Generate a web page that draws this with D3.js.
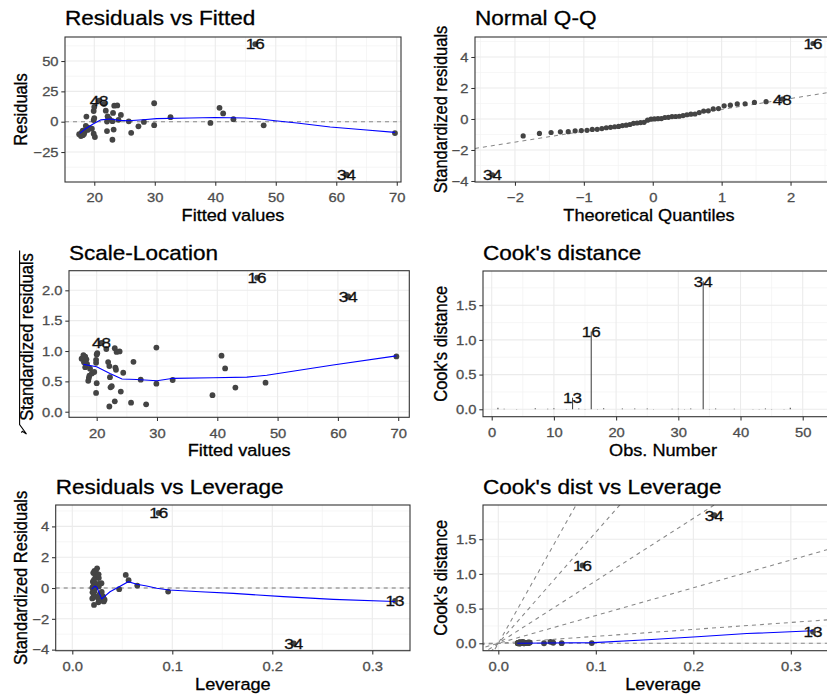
<!DOCTYPE html>
<html><head><meta charset="utf-8">
<script src="https://cdn.jsdelivr.net/npm/d3@7"></script>
<style>
body{margin:0;background:#fff}
text{font-family:"Liberation Sans",Arial,sans-serif}
.heavy{stroke-width:0.3px;paint-order:stroke}
</style>
</head><body>
<script>
// ---------------- data ----------------
// observation number = index + 1
const fitted = [40.7,18.3,22.1,19.9,25.7,18.8,29.9,20.0,17.9,23.0,
                22.3,19.2,69.7,23.3,18.1,46.6,26.1,21.6,18.6,32.6,
                20.1,22.5,17.8,39.2,23.8,19.6,27.3,24.4,18.4,41.3,
                21.9,17.5,28.2,61.7,23.1,18.1,43.0,22.2,19.9,29.9,
                18.7,22.1,48.0,20.0,23.2,19.9,18.9,20.8,24.0,23.0];
const residuals = [11.4,-10.1,0.1,8.8,0.3,-4.8,15.2,3.0,-9.0,-14.9,
                   2.2,-5.4,-9.4,13.2,-7.3,64.0,-9.2,14.5,-3.5,3.7,
                   -12.6,2.4,-11.8,-1.0,13.4,-5.8,-3.8,5.6,-8.4,6.8,
                   9.1,-10.3,-0.2,-43.7,7.2,-11.1,2.1,4.4,-9.9,-2.9,
                   4.2,-7.7,-3.0,12.1,-6.5,1.3,-6.8,17.4,1.5,0.4];
const residualSE = 13.75;      // residual standard error of the model
const nCoef = 2;               // intercept + slope
const residLabelObs = [16, 34, 48];
const cookLabelObs = [34, 16, 13];
const cookContourLevels = [0, 1, 2, 3, 4, 5];

// loess smooth lines as drawn
const rvfSmoothX = [17.6,18.5,19.8,21.1,22.6,24.2,25.6,28.1,30.3,35.8,40.0,44.9,47.4,49.9,53.5,59.0,64.5,69.7];
const rvfSmoothY = [-9.6,-6.0,-1.9,1.5,2.2,1.1,0.8,1.6,2.5,3.0,3.5,3.0,2.2,0.8,-1.1,-4.4,-6.6,-8.8];
const slSmoothX = [17.8,20.0,22.2,24.2,26.6,30.0,32.7,39.3,44.9,48.2,59.2,69.7];
const slSmoothY = [0.78,0.74,0.63,0.54,0.53,0.51,0.55,0.56,0.57,0.60,0.77,0.92];
const rvlSmoothX = [0.0194,0.0225,0.0245,0.0294,0.0377,0.046,0.056,0.0644,0.0744,0.0844,0.0967,0.128,0.161,0.211,0.261,0.3227];
const rvlSmoothY = [-0.07,0.12,0.05,-0.71,-0.24,0.05,0.41,0.24,0.13,-0.02,-0.13,-0.24,-0.35,-0.56,-0.74,-0.88];
const cvlSmoothX = [0.0195,0.05,0.098,0.153,0.204,0.255,0.3227];
const cvlSmoothY = [0.0,0.003,0.01,0.05,0.095,0.14,0.18];

// tick labels
const fittedTicks = [20,30,40,50,60,70];
const residTicks = [-25,0,25,50];
const qqXTicks = [-2,-1,0,1,2];
const stdTicks = [-4,-2,0,2,4];
const slTicks = [0,0.5,1,1.5,2];
const obsTicks = [0,10,20,30,40,50];
const cookTicks = [0,0.5,1,1.5];
const levTicks = [0,0.1,0.2,0.3];

// ---------------- derived diagnostics ----------------
const n = fitted.length;
const obs = d3.range(n).map(i => i + 1);
const fbar = d3.mean(fitted);
const sff = d3.sum(fitted, f => (f - fbar) * (f - fbar));
const hat = fitted.map(f => 1 / n + (f - fbar) * (f - fbar) / sff);
const stdRes = residuals.map((r, i) => r / (residualSE * Math.sqrt(1 - hat[i])));
const cooks = stdRes.map((s, i) => s * s * hat[i] / (nCoef * (1 - hat[i])));

function qnorm(p){
  const a=[-3.969683028665376e+01,2.209460984245205e+02,-2.759285104469687e+02,1.383577518672690e+02,-3.066479806614716e+01,2.506628277459239e+00];
  const b=[-5.447609879822406e+01,1.615858368580409e+02,-1.556989798598866e+02,6.680131188771972e+01,-1.328068155288572e+01];
  const c=[-7.784894002430293e-03,-3.223964580411365e-01,-2.400758277161838e+00,-2.549671010115749e+00,4.374664141464968e+00,2.938163982698783e+00];
  const d=[7.784695709041462e-03,3.224671290700398e-01,2.445134137142996e+00,3.754408661907416e+00];
  const pl=0.02425, ph=1-pl; let q,r;
  if(p<pl){q=Math.sqrt(-2*Math.log(p));return (((((c[0]*q+c[1])*q+c[2])*q+c[3])*q+c[4])*q+c[5])/((((d[0]*q+d[1])*q+d[2])*q+d[3])*q+1);}
  if(p<=ph){q=p-0.5;r=q*q;return (((((a[0]*r+a[1])*r+a[2])*r+a[3])*r+a[4])*r+a[5])*q/(((((b[0]*r+b[1])*r+b[2])*r+b[3])*r+b[4])*r+1);}
  q=Math.sqrt(-2*Math.log(1-p));return -(((((c[0]*q+c[1])*q+c[2])*q+c[3])*q+c[4])*q+c[5])/((((d[0]*q+d[1])*q+d[2])*q+d[3])*q+1);
}
const order = d3.range(n).sort((i, j) => stdRes[i] - stdRes[j]);
const theo = new Array(n);
order.forEach((idx, rank) => { theo[idx] = qnorm((rank + 1 - 0.5) / n); });
const sortedStd = order.map(i => stdRes[i]);
const q1 = d3.quantileSorted(sortedStd, 0.25), q3 = d3.quantileSorted(sortedStd, 0.75);
const qqSlope = (q3 - q1) / (qnorm(0.75) - qnorm(0.25));
const qqIntercept = q1 - qqSlope * qnorm(0.25);

// ---------------- drawing helpers ----------------
const SX = 1.1;
const FONT = '"Liberation Sans", Arial, sans-serif';
const svg = d3.select('body').append('svg').attr('width', 827).attr('height', 696).style('display','block');
svg.append('rect').attr('width', 827).attr('height', 696).attr('fill', '#fff');
let clipCount = 0;

function minorOf(ticks, step, dom){
  const out = [];
  const lo = Math.min(dom[0], dom[1]), hi = Math.max(dom[0], dom[1]);
  for (let k = -1; k <= ticks.length - 1; k++){
    const v = (k < 0 ? ticks[0] - step / 2 : ticks[k] + step / 2);
    if (v > lo && v < hi) out.push(v);
  }
  return out;
}

function makePanel(o){
  const x = d3.scaleLinear().domain(o.xd).range([o.l, o.r]);
  const y = d3.scaleLinear().domain(o.yd).range([o.b, o.t]);
  const g = svg.append('g');
  const id = 'clip' + (clipCount++);
  g.append('clipPath').attr('id', id).append('rect')
    .attr('x', o.l).attr('y', o.t).attr('width', o.r - o.l).attr('height', o.b - o.t);
  g.append('rect').attr('x', o.l).attr('y', o.t).attr('width', o.r - o.l).attr('height', o.b - o.t).attr('fill', '#fff');
  const grid = g.append('g').attr('clip-path', `url(#${id})`);
  const xMinor = minorOf(o.xt, o.xt[1] - o.xt[0], o.xd);
  const yMinor = minorOf(o.yt, o.yt[1] - o.yt[0], o.yd);
  grid.selectAll('.vmn').data(xMinor).join('line').attr('x1', d => x(d)).attr('x2', d => x(d))
    .attr('y1', o.t).attr('y2', o.b).attr('stroke', '#F2F2F2').attr('stroke-width', 0.7);
  grid.selectAll('.hmn').data(yMinor).join('line').attr('y1', d => y(d)).attr('y2', d => y(d))
    .attr('x1', o.l).attr('x2', o.r).attr('stroke', '#F2F2F2').attr('stroke-width', 0.7);
  grid.selectAll('.vmj').data(o.xt).join('line').attr('x1', d => x(d)).attr('x2', d => x(d))
    .attr('y1', o.t).attr('y2', o.b).attr('stroke', '#EBEBEB').attr('stroke-width', 1.1);
  grid.selectAll('.hmj').data(o.yt).join('line').attr('y1', d => y(d)).attr('y2', d => y(d))
    .attr('x1', o.l).attr('x2', o.r).attr('stroke', '#EBEBEB').attr('stroke-width', 1.1);
  const plot = g.append('g').attr('clip-path', `url(#${id})`);
  g.append('rect').attr('x', o.l).attr('y', o.t).attr('width', o.r - o.l).attr('height', o.b - o.t)
    .attr('fill', 'none').attr('stroke', '#333').attr('stroke-width', 1.1);

  const ax = g.append('g').attr('transform', `translate(0,${o.b})`)
    .call(d3.axisBottom(x).tickValues(o.xt).tickFormat(o.xf).tickSize(3.7).tickPadding(7.1));
  const ay = g.append('g').attr('transform', `translate(${o.l},0)`)
    .call(d3.axisLeft(y).tickValues(o.yt).tickFormat(o.yf).tickSize(3.7).tickPadding(2.2));
  [ax, ay].forEach(a => {
    a.select('.domain').remove();
    a.attr('font-family', FONT).attr('font-size', null);
    a.selectAll('line').attr('stroke', '#333').attr('stroke-width', 1.07);
    a.selectAll('text').attr('fill', '#4D4D4D').attr('stroke', '#4D4D4D').attr('class', 'heavy')
      .style('font-size', '13.4px').attr('transform', `scale(${SX},1)`);
  });

  g.append('text').attr('transform', `translate(${o.l},${o.titleY}) scale(${SX},1)`).attr('class', 'heavy')
    .style('font-size', '20.5px').attr('fill', '#000').attr('stroke', '#000').text(o.title);
  g.append('text').attr('transform', `translate(${(o.l + Math.min(o.r, 827)) / 2 + (o.xTitleShift||0)},${o.b + 39}) scale(${SX},1)`)
    .attr('text-anchor', 'middle').attr('class', 'heavy').style('font-size', '16.5px').attr('fill', '#000').attr('stroke', '#000').text(o.xTitle);
  g.append('text').attr('transform', `translate(${o.yTitleX},${(o.t + o.b) / 2 + (o.yTitleShift||0)}) scale(${SX},1) rotate(-90)`)
    .attr('text-anchor', 'middle').attr('class', 'heavy').style('font-size', '16.5px').attr('fill', '#000').attr('stroke', '#000').text(o.yTitle);
  return {x, y, plot, g};
}

function addPoints(p, xs, ys, r){
  p.plot.append('g').selectAll('circle').data(d3.range(xs.length)).join('circle')
    .attr('cx', i => p.x(xs[i])).attr('cy', i => p.y(ys[i])).attr('r', r || 2.9).attr('fill', '#444444');
}
function addSmooth(p, xs, ys){
  const line = d3.line().x(i => p.x(xs[i])).y(i => p.y(ys[i]));
  p.plot.append('path').attr('d', line(d3.range(xs.length))).attr('fill', 'none')
    .attr('stroke', '#0000FF').attr('stroke-width', 1.1);
}
function addDashed(p, x1, y1, x2, y2, col){
  p.plot.append('line').attr('x1', p.x(x1)).attr('y1', p.y(y1)).attr('x2', p.x(x2)).attr('y2', p.y(y2))
    .attr('stroke', col || '#888888').attr('stroke-width', 1.07).attr('stroke-dasharray', '4,4');
}
function addLabels(p, ids, xs, ys){
  p.plot.append('g').selectAll('text').data(ids).join('text')
    .attr('transform', id => `translate(${p.x(xs[id - 1])},${p.y(ys[id - 1])}) scale(${SX},1)`)
    .attr('text-anchor', 'middle').attr('dy', '0.35em').attr('class', 'heavy')
    .style('font-size', '15.5px').attr('fill', '#111').attr('stroke', '#111')
    .text(id => id);
}
const f0 = d3.format('d'), f1 = d3.format('.1f');

// ---------------- Panel 1: Residuals vs Fitted ----------------
const p1 = makePanel({l:65, r:401, t:37, b:182, xd:[15.16,70.7], yd:[-49.7,69.8],
  xt:fittedTicks, yt:residTicks, xf:f0, yf:f0, titleY:24.5,
  title:'Residuals vs Fitted', xTitle:'Fitted values', yTitle:'Residuals', yTitleX:26.7});
addDashed(p1, 15.16, 0, 70.7, 0);
addPoints(p1, fitted, residuals);
addSmooth(p1, rvfSmoothX, rvfSmoothY);
addLabels(p1, residLabelObs, fitted, residuals);

// ---------------- Panel 2: Normal Q-Q ----------------
const p2 = makePanel({l:475, r:830.5, t:37, b:182, xd:[-2.58,2.58], yd:[-4.065,5.29],
  xt:qqXTicks, yt:stdTicks, xf:f0, yf:f0, titleY:24.5, xTitleShift:-2,
  title:'Normal Q-Q', xTitle:'Theoretical Quantiles', yTitle:'Standardized residuals', yTitleX:447.3});
addDashed(p2, -2.58, qqIntercept + qqSlope * -2.58, 2.58, qqIntercept + qqSlope * 2.58);
addPoints(p2, theo, stdRes, 2.6);
addLabels(p2, residLabelObs, theo, stdRes);

// ---------------- Panel 3: Scale-Location ----------------
const sqrtStd = stdRes.map(s => Math.sqrt(Math.abs(s)));
const p3 = makePanel({l:69, r:409.3, t:270.7, b:417.3, xd:[15.41,71.84], yd:[-0.092,2.323],
  xt:fittedTicks, yt:slTicks, xf:f0, yf:f1, titleY:259.5, yTitleShift:-7,
  title:'Scale-Location', xTitle:'Fitted values', yTitle:'Standardized residuals', yTitleX:33.3});
addPoints(p3, fitted, sqrtStd);
addSmooth(p3, slSmoothX, slSmoothY);
addLabels(p3, residLabelObs, fitted, sqrtStd);
// radical sign of the sqrt() axis title
p3.g.append('path').attr('d', 'M19.6,250.5 V424.5 L26.5,434 L22.3,431.2 L21.4,432.6')
  .attr('fill', 'none').attr('stroke', '#000').attr('stroke-width', 1.1);

// ---------------- Panel 4: Cook's distance ----------------
const p4 = makePanel({l:483, r:835, t:271, b:416.7, xd:[-1.4,55.19], yd:[-0.107,1.993],
  xt:obsTicks, yt:cookTicks, xf:f0, yf:f1, titleY:259.5, xTitleShift:8,
  title:"Cook's distance", xTitle:'Obs. Number', yTitle:"Cook's distance", yTitleX:447.3});
p4.plot.append('g').selectAll('line').data(d3.range(n)).join('line')
  .attr('x1', i => p4.x(obs[i])).attr('x2', i => p4.x(obs[i]))
  .attr('y1', p4.y(0)).attr('y2', i => p4.y(cooks[i]))
  .attr('stroke', '#444').attr('stroke-width', 1.07);
addLabels(p4, cookLabelObs, obs, cooks);

// ---------------- Panel 5: Residuals vs Leverage ----------------
const p5 = makePanel({l:55.7, r:410, t:505, b:650.7, xd:[-0.0166,0.3377], yd:[-4.07,5.39],
  xt:levTicks, yt:stdTicks, xf:f1, yf:f0, titleY:493.5,
  title:'Residuals vs Leverage', xTitle:'Leverage', yTitle:'Standardized Residuals', yTitleX:26.7});
addDashed(p5, -0.0166, 0, 0.3377, 0, '#777777');
addPoints(p5, hat, stdRes);
addSmooth(p5, rvlSmoothX, rvlSmoothY);
addLabels(p5, cookLabelObs, hat, stdRes);

// ---------------- Panel 6: Cook's dist vs Leverage ----------------
const p6 = makePanel({l:483, r:835, t:505, b:650.7, xd:[-0.0157,0.3453], yd:[-0.107,1.993],
  xt:levTicks, yt:cookTicks, xf:f1, yf:f1, titleY:493.5, xTitleShift:8,
  title:"Cook's dist vs Leverage", xTitle:'Leverage', yTitle:"Cook's distance", yTitleX:447.3});
cookContourLevels.forEach(b => addDashed(p6, -0.1, -0.1 * b * b, 0.4, 0.4 * b * b));
addPoints(p6, hat, cooks);
addSmooth(p6, cvlSmoothX, cvlSmoothY);
addLabels(p6, cookLabelObs, hat, cooks);
</script>
</body></html>
